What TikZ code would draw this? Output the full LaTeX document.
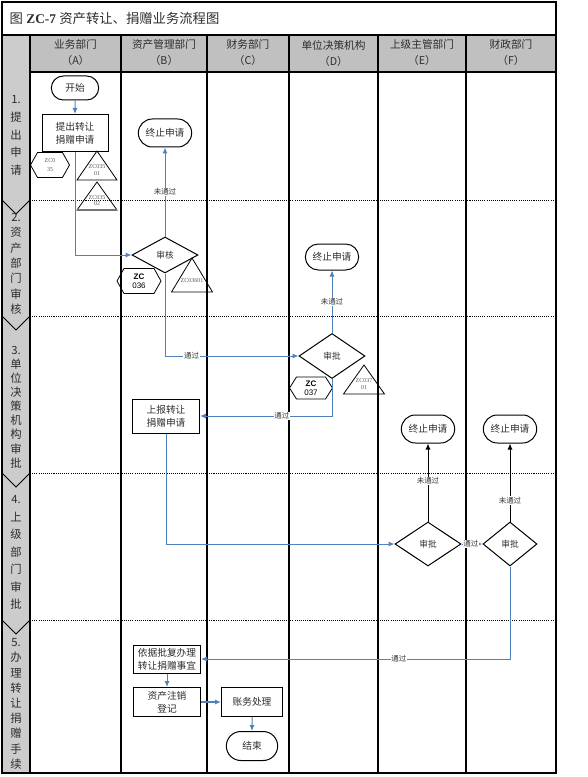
\documentclass[tikz,border=0pt]{standalone}
\usepackage{fontspec}
\setmainfont{Liberation Serif}
\newfontfamily\cjk{Noto Sans CJK SC}
\newfontfamily\sansf{Liberation Sans}
\usetikzlibrary{arrows.meta,shapes.geometric,shapes.misc}
\definecolor{flowblue}{RGB}{79,129,189}
\definecolor{hdrgray}{RGB}{192,192,192}
\definecolor{phgray}{RGB}{204,204,204}
\definecolor{txt}{RGB}{45,45,45}
\newcommand\hexnode[6]{%
  \draw[shapeline] ({#2-#4},#3) -- ({#2-#4+7},{#3-#5}) -- ({#2+#4-7},{#3-#5}) -- ({#2+#4},#3) -- ({#2+#4-7},{#3+#5}) -- ({#2-#4+7},{#3+#5}) -- cycle;
  \node[hextext] (#1) at (#2,#3) {#6};}
\newcommand\trinode[6]{%
  \draw[shapeline] (#2,#3) -- ({#2+#4},{#3+#5}) -- ({#2-#4},{#3+#5}) -- cycle;
  \node[tritext] (#1) at (#2,{#3+#5*0.66}) {#6};}
\newcommand\tinygray[1]{{\normalfont\fontsize{4.5}{5}\selectfont\color{black!65}#1}}
\begin{document}
\begin{tikzpicture}[x=0.75pt,y=-0.75pt,
  lane/.style={line width=0.9pt,black},
  dotline/.style={line width=0.6pt,dash pattern=on 0.8pt off 0.8pt},
  shapeline/.style={line width=0.6pt,black},
  hextext/.style={font=\sansf\fontsize{6}{7}\selectfont,align=center,inner sep=0pt},
  tritext/.style={font=\fontsize{4.5}{5}\selectfont,text=black!65,align=center,inner sep=0pt},
  box/.style={draw,line width=0.75pt,rectangle,align=center,inner sep=1pt,text=txt,font=\cjk\fontsize{7.3}{10}\selectfont},
  term/.style={draw,line width=0.75pt,rounded rectangle,align=center,inner sep=1pt,text=txt,minimum width=42pt,minimum height=21pt,font=\cjk\fontsize{7.3}{10}\selectfont},
  decision/.style={draw,line width=0.75pt,diamond,inner sep=0pt,text=txt,font=\cjk\fontsize{6.5}{8}\selectfont},
  hdr/.style={align=center,text=txt,font=\cjk\fontsize{8}{12}\selectfont},
  phase/.style={align=center,text width=20pt,inner sep=0pt,text=txt},
  flow/.style={draw=flowblue,line width=0.75pt,-{Latex[length=4.5pt,width=3.8pt]}},
  bflow/.style={draw=black,line width=0.75pt,-{Latex[length=4.5pt,width=3.8pt]}},
  lbl/.style={font=\cjk\fontsize{5.6}{6}\selectfont,fill=white,inner sep=0.6pt,text=black!80}]
\useasboundingbox (0,0) rectangle (588,777);
% backgrounds
\fill[phgray] (2,35) rectangle (30,773);
\fill[hdrgray] (30,35) rectangle (556,72);
% title
\node[anchor=west,text=txt,font=\fontsize{10}{12}\selectfont] (title) at (5,18) {{\cjk 图} \textbf{ZC-7} {\cjk 资产转让、捐赠业务流程图}};
% headers
\node[hdr] (hA) at (75.5,53) {业务部门\\（A）};
\node[hdr] (hB) at (164,53) {资产管理部门\\（B）};
\node[hdr] (hC) at (248,53) {财务部门\\（C）};
\node[hdr] (hD) at (333.5,53) {单位决策机构\\（D）};
\node[hdr] (hE) at (422,53) {上级主管部门\\（E）};
\node[hdr] (hF) at (511,53) {财政部门\\（F）};
% phase dotted lines and chevrons
\foreach \yy in {200,316,473,620}{
  \draw[dotline] (30,\yy) -- (556,\yy);
  \draw[line width=0.6pt] (2,\yy) -- (16,\yy+14) -- (30,\yy);
}
% phase labels
\node[phase,font=\cjk\fontsize{8.5}{13.3}\selectfont] (p1) at (16,135.5) {1.\\提\\出\\申\\请};
\node[phase,font=\cjk\fontsize{8.5}{11.5}\selectfont] (p2) at (16,264) {2.\\资\\产\\部\\门\\审\\核};
\node[phase,font=\cjk\fontsize{8.5}{10.6}\selectfont] (p3) at (16,407) {3.\\单\\位\\决\\策\\机\\构\\审\\批};
\node[phase,font=\cjk\fontsize{8.5}{13.1}\selectfont] (p4) at (16,552.5) {4.\\上\\级\\部\\门\\审\\批};
\node[phase,font=\cjk\fontsize{8.5}{11.4}\selectfont] (p5) at (16,704) {5.\\办\\理\\转\\让\\捐\\赠\\手\\续};
% frame and lanes
\draw[lane] (2,2) rectangle (556,773);
\draw[lane] (2,35) -- (556,35);
\draw[lane] (30,72) -- (556,72);
\foreach \xx in {30,121,207,289,378,466}{
  \draw[lane] (\xx,35) -- (\xx,773);
}
% nodes
\node[term,minimum width=37.5pt,minimum height=18pt] (start) at (75,88) {开始};
\node[box,minimum width=49.5pt,minimum height=27.75pt] (submit) at (75,133) {提出转让\\捐赠申请};
\node[term] (endB) at (165,133) {终止申请};
\node[decision,minimum width=49.5pt,minimum height=27pt] (check) at (165,255) {审核};
\node[term,minimum height=19.5pt] (endD) at (332,257) {终止申请};
\node[decision,minimum width=49.5pt,minimum height=33.75pt] (apprD) at (332,356) {审批};
\node[box,minimum width=50.25pt,minimum height=25.5pt] (report) at (166,416) {上报转让\\捐赠申请};
\node[term] (endE) at (428,429) {终止申请};
\node[term] (endF) at (510,429) {终止申请};
\node[decision,minimum width=49.5pt,minimum height=33pt] (apprE) at (428,544) {审批};
\node[decision,minimum width=40.5pt,minimum height=33pt] (apprF) at (510,544) {审批};
\node[box,minimum width=50.25pt,minimum height=21pt] (basis) at (167,659) {依据批复办理\\转让捐赠事宜};
\node[box,minimum width=50.25pt,minimum height=21.75pt] (cancel) at (167,702) {资产注销\\登记};
\node[box,minimum width=45.75pt,minimum height=21.75pt] (acct) at (252,702) {账务处理};
\node[term,minimum width=40.5pt,minimum height=21.75pt] (finish) at (252,746) {结束};
% hexagons and triangles
\hexnode{hx1}{50}{165}{19.5}{12.5}{\tinygray{ZC0}\\\tinygray{35}}
\hexnode{hx2}{139}{281}{22}{12.5}{\textbf{ZC}\\036}
\hexnode{hx3}{311}{388}{21.5}{11}{\textbf{ZC}\\037}
\trinode{tr1}{97}{151}{20}{29}{ZC035\\01}
\trinode{tr2}{97}{182}{20}{28}{ZC035\\02}
\draw[line width=1.2pt,black!55] (77,210) -- (117,210);
\trinode{tr3}{192}{258}{20.5}{34}{ZC03601}
\trinode{tr4}{364}{365}{20.5}{29}{ZC037\\01}
% connectors
\draw[flow] (start) -- (submit);
\draw[flow] (submit.south) |- (check.west);
\draw[flow] (check.north) -- node[lbl,pos=0.5] {未通过} (endB.south);
\draw[flow] (check.south) |- node[lbl,pos=0.6] {通过} (apprD.west);
\draw[flow] (apprD.north) -- node[lbl,pos=0.5] {未通过} (endD.south);
\draw[flow] (apprD.south) |- node[lbl,pos=0.69] {通过} (report.east);
\draw[flow] (report.south) |- (apprE.west);
\draw[bflow] (apprE.north) -- node[lbl,pos=0.52] {未通过} (endE.south);
\draw[bflow] (apprF.north) -- node[lbl,pos=0.27] {未通过} (endF.south);
\draw[flow] (apprE.east) -- node[lbl,pos=0.45] {通过} (apprF.west);
\draw[flow] (apprF.south) |- node[lbl,pos=0.68] {通过} (basis.east);
\draw[flow] (basis) -- (cancel);
\draw[flow,line width=1.3pt] (cancel) -- (acct);
\draw[flow] (acct) -- (finish);
\end{tikzpicture}
\end{document}
